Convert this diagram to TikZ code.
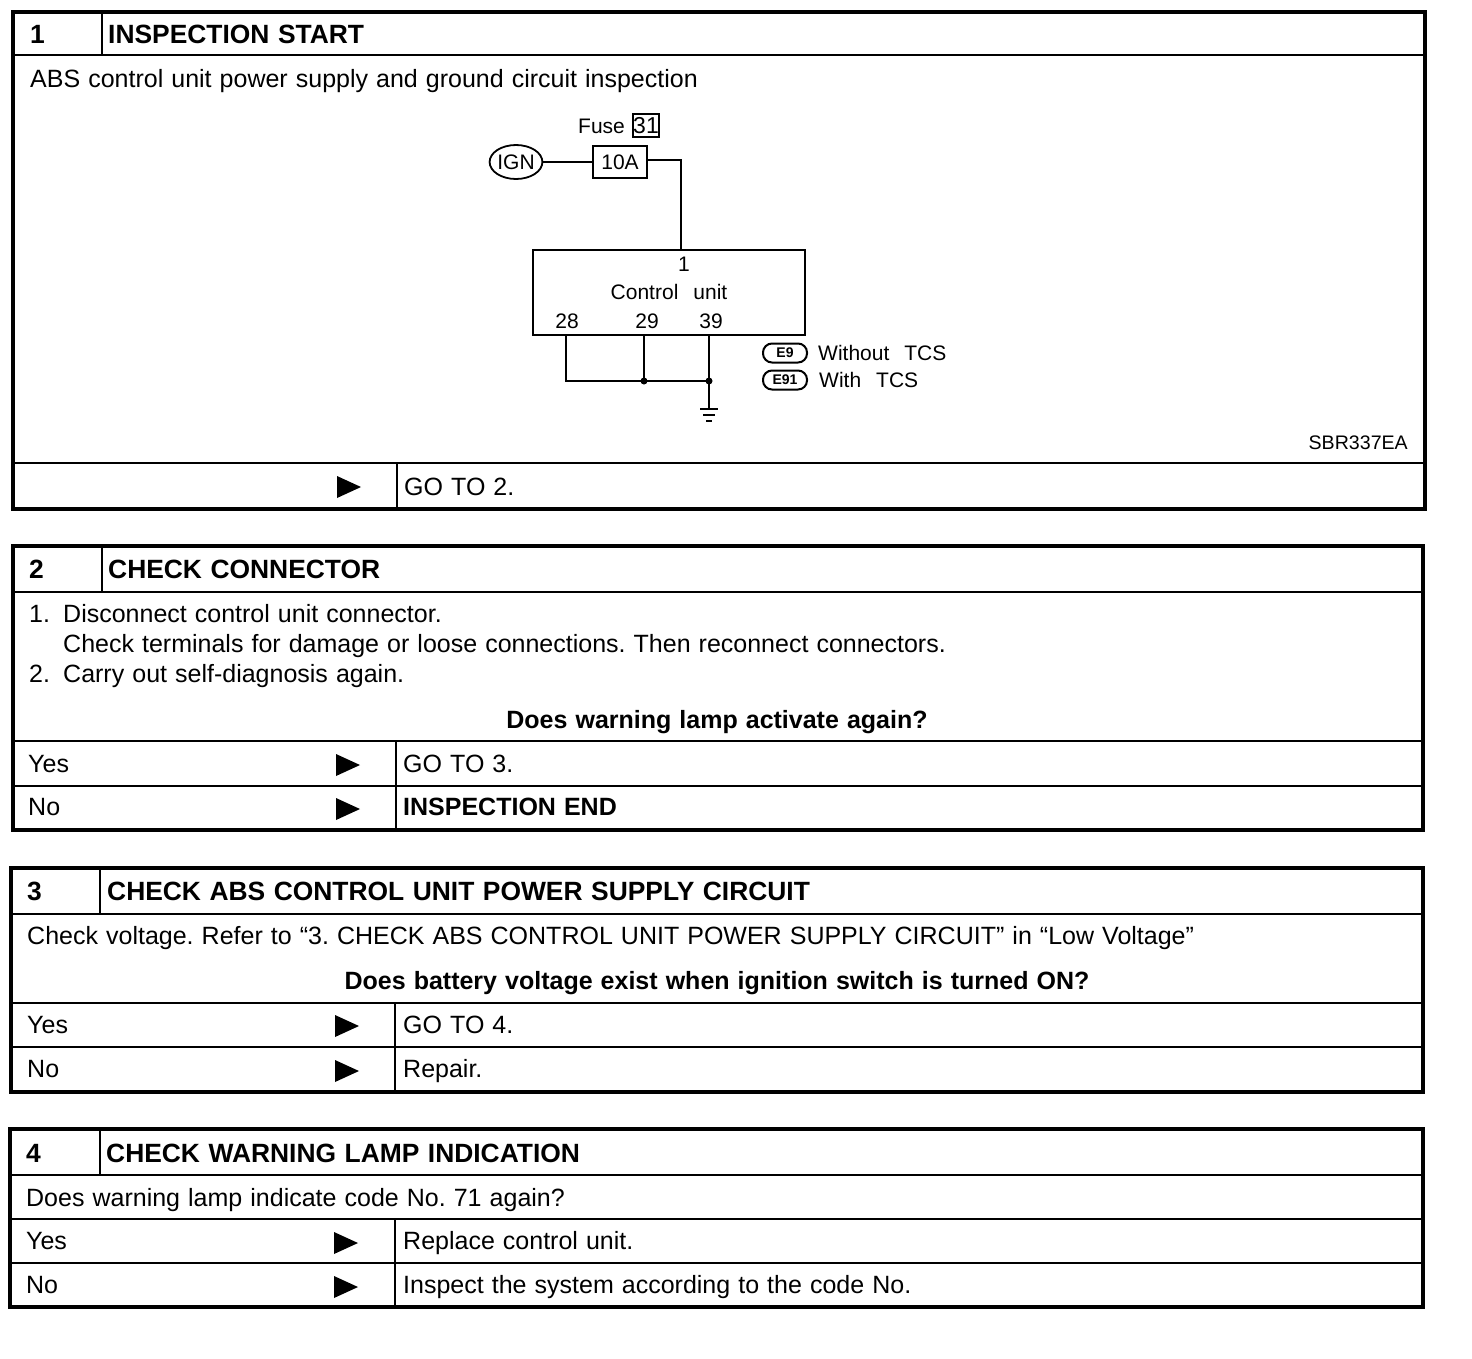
\documentclass[tikz,border=0pt]{standalone}
\usepackage{fontspec}
\setmainfont{Liberation Sans}[WordSpace=1.16]
\usepackage{amsmath}
\usepackage{amssymb}
\usetikzlibrary{shapes.geometric}
\frenchspacing
\newcommand{\widewords}{\spaceskip 15pt\relax}

\begin{document}
\begin{tikzpicture}[x=1pt,y=-1pt,
        outer/.style = {line width=3.5pt},
        inner/.style = {line width=2pt},
        wire/.style = {line width=1.8pt},
        txt/.style = {anchor=base west, inner sep=0pt, font=\fontsize{25}{25}\selectfont},
        head/.style = {anchor=base west, inner sep=0pt, font=\fontsize{26.4}{26}\selectfont\bfseries},
        ask/.style = {anchor=base, inner sep=0pt, font=\fontsize{25}{25}\selectfont\bfseries},
        small/.style = {inner sep=0pt, font=\fontsize{21}{20}\selectfont\widewords},
        tag/.style = {draw, line width=2pt, rounded corners=9pt, minimum width=44pt, minimum height=19pt, inner sep=0pt, font=\fontsize{14}{14}\selectfont\bfseries},
        go/.style = {fill=black}
    ]
        \useasboundingbox (0,0) rectangle (1472,1358);
        \fill[white] (0,0) rectangle (1472,1358);
        % Step 1
        \draw[outer] (13,12) rectangle (1425,509);
        \draw[inner] (13,55) -- (1425,55);
        \draw[inner] (102,12) -- (102,55);
        \draw[inner] (13,463) -- (1425,463);
        \draw[inner] (397,463) -- (397,509);
        \node (n1) at (30,43) [head] {1};
        \node (t1) at (108,43) [head] {INSPECTION START};
        \node (d1) at (30,87) [txt] {ABS control unit power supply and ground circuit inspection};
        \fill[go] (337,476) -- (361,487) -- (337,498) -- cycle;
        \node (g1) at (404,495) [txt] {GO TO 2.};
        % Circuit
        \node (ign) at (516,162) [draw, ellipse, wire, minimum width=52pt, minimum height=34pt, inner sep=0pt, small] {IGN};
        \node (fuse) at (620,162) [draw, wire, minimum width=54pt, minimum height=32pt, inner sep=0pt, small] {10A};
        \node (fuselabel) at (578,133) [small, anchor=base west] {Fuse};
        \node (fusenum) at (646,125.5) [draw, wire, minimum width=24pt, minimum height=23pt, inner sep=0pt, font=\fontsize{23}{23}\selectfont] {31};
        \node (unit) at (669,292.5) [draw, line width=2.2pt, minimum width=272pt, minimum height=85pt, inner sep=0pt] {};
        \node (pin1) at (684,264) [small] {1};
        \node (unitlabel) at (669,292) [small] {Control unit};
        \node (pin28) at (567,321) [small] {28};
        \node (pin29) at (647,321) [small] {29};
        \node (pin39) at (711,321) [small] {39};
        \coordinate (top) at (681,250);
        \coordinate (a) at (566,335);
        \coordinate (b) at (644,335);
        \coordinate (c) at (709,335);
        \coordinate (ja) at (566,381);
        \coordinate (jb) at (644,381);
        \coordinate (jc) at (709,381);
        \coordinate (gnd) at (709,409);
        \draw[wire] (ign) -- (fuse);
        \draw[wire] (fuse.east |- 0,160) -| (top);
        \draw[wire] (a) -- (ja) -- (jc);
        \draw[wire] (b) -- (jb);
        \draw[line width=2.4pt] (c) -- (jc) -- (gnd);
        \fill (jb) circle (3.5pt);
        \fill (jc) circle (3.5pt);
        \draw[line width=2.4pt] (700,409) -- (718,409);
        \draw[line width=2.4pt] (703,415) -- (715,415);
        \draw[line width=2.4pt] (706,421) -- (712,421);
        \node (e9) at (785,353) [tag] {E9};
        \node (e91) at (785,380) [tag] {E91};
        \node (without) at (818,360) [small, anchor=base west] {Without TCS};
        \node (with) at (819,387) [small, anchor=base west] {With TCS};
        \node (code) at (1408,449) [small, anchor=base east, font=\fontsize{19.6}{20}\selectfont] {SBR337EA};
        % Step 2
        \draw[outer] (13,546) rectangle (1423,830);
        \draw[inner] (13,592) -- (1423,592);
        \draw[inner] (102,546) -- (102,592);
        \draw[inner] (13,741) -- (1423,741);
        \draw[inner] (13,786) -- (1423,786);
        \draw[inner] (396,741) -- (396,830);
        \node (n2) at (29,578) [head] {2};
        \node (t2) at (108,578) [head] {CHECK CONNECTOR};
        \node (d2a) at (29,622) [txt] {1.};
        \node (d2b) at (63,622) [txt] {Disconnect control unit connector.};
        \node (d2c) at (63,652) [txt] {Check terminals for damage or loose connections. Then reconnect connectors.};
        \node (d2d) at (29,682) [txt] {2.};
        \node (d2e) at (63,682) [txt] {Carry out self-diagnosis again.};
        \node (q2) at (717,728) [ask] {Does warning lamp activate again?};
        \node (y2) at (28,772) [txt] {Yes};
        \fill[go] (336,754) -- (360,765) -- (336,776) -- cycle;
        \node (g2) at (403,772) [txt] {GO TO 3.};
        \node (no2) at (28,815) [txt] {No};
        \fill[go] (336,798) -- (360,809) -- (336,820) -- cycle;
        \node (e2) at (403,815) [head, font=\fontsize{25}{25}\selectfont\bfseries] {INSPECTION END};
        % Step 3
        \draw[outer] (11,868) rectangle (1423,1092);
        \draw[inner] (11,914) -- (1423,914);
        \draw[inner] (100,868) -- (100,914);
        \draw[inner] (11,1003) -- (1423,1003);
        \draw[inner] (11,1047) -- (1423,1047);
        \draw[inner] (395,1003) -- (395,1092);
        \node (n3) at (27,900) [head] {3};
        \node (t3) at (107,900) [head] {CHECK ABS CONTROL UNIT POWER SUPPLY CIRCUIT};
        \node (d3) at (27,944) [txt] {Check voltage. Refer to “3. CHECK ABS CONTROL UNIT POWER SUPPLY CIRCUIT” in “Low Voltage”};
        \node (q3) at (717,989) [ask] {Does battery voltage exist when ignition switch is turned ON?};
        \node (y3) at (27,1033) [txt] {Yes};
        \fill[go] (335,1015) -- (359,1026) -- (335,1037) -- cycle;
        \node (g3) at (403,1033) [txt] {GO TO 4.};
        \node (no3) at (27,1077) [txt] {No};
        \fill[go] (335,1060) -- (359,1071) -- (335,1082) -- cycle;
        \node (e3) at (403,1077) [txt] {Repair.};
        % Step 4
        \draw[outer] (10,1129) rectangle (1423,1307);
        \draw[inner] (10,1175) -- (1423,1175);
        \draw[inner] (100,1129) -- (100,1175);
        \draw[inner] (10,1219) -- (1423,1219);
        \draw[inner] (10,1263) -- (1423,1263);
        \draw[inner] (395,1219) -- (395,1307);
        \node (n4) at (26,1162) [head] {4};
        \node (t4) at (106,1162) [head] {CHECK WARNING LAMP INDICATION};
        \node (d4) at (26,1206) [txt] {Does warning lamp indicate code No. 71 again?};
        \node (y4) at (26,1249) [txt] {Yes};
        \fill[go] (334,1232) -- (358,1243) -- (334,1254) -- cycle;
        \node (g4) at (403,1249) [txt] {Replace control unit.};
        \node (no4) at (26,1293) [txt] {No};
        \fill[go] (334,1276) -- (358,1287) -- (334,1298) -- cycle;
        \node (e4) at (403,1293) [txt] {Inspect the system according to the code No.};
    \end{tikzpicture}
\end{document}
